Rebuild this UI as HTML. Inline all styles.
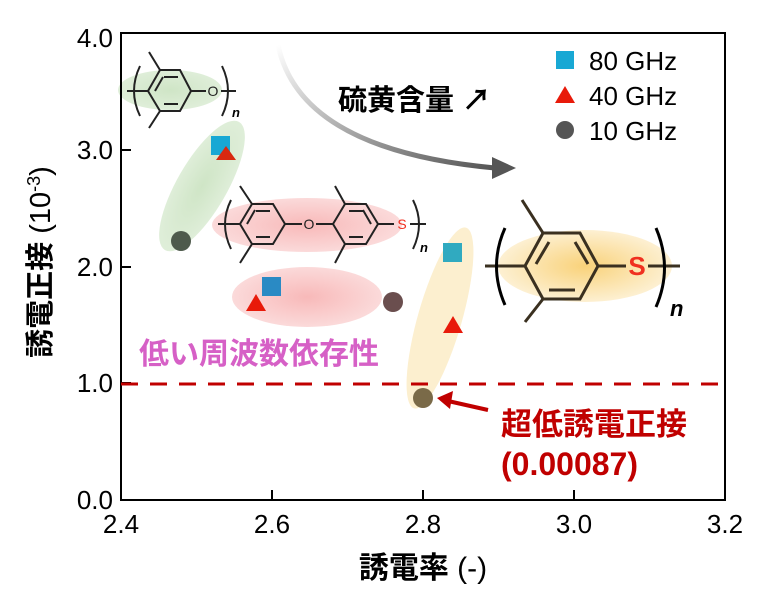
<!DOCTYPE html>
<html><head><meta charset="utf-8"><style>
html,body{margin:0;padding:0;background:#fff;}
svg{display:block;font-family:"Liberation Sans","Noto Sans CJK JP",sans-serif;}
</style></head><body>
<svg width="765" height="609" viewBox="0 0 765 609" xmlns="http://www.w3.org/2000/svg">
<defs>
<radialGradient id="gG"><stop offset="0" stop-color="#cfe5c6"/><stop offset="1" stop-color="#dfeed9"/></radialGradient>
<radialGradient id="gR"><stop offset="0" stop-color="#f8b9b9"/><stop offset="1" stop-color="#fbdada"/></radialGradient>
<radialGradient id="gY"><stop offset="0" stop-color="#f9d27a"/><stop offset="1" stop-color="#fdf0d2"/></radialGradient>
<linearGradient id="gA" x1="0" y1="0" x2="1" y2="1"><stop offset="0" stop-color="#ffffff"/><stop offset="1" stop-color="#555"/></linearGradient>
</defs>

<ellipse cx="170" cy="90" rx="52" ry="20" fill="url(#gG)"/>
<ellipse cx="202" cy="186" rx="74" ry="25" fill="url(#gG)" transform="rotate(-60 202 186)"/>
<ellipse cx="307" cy="225" rx="95" ry="27" fill="url(#gR)"/>
<ellipse cx="307" cy="297" rx="75" ry="30" fill="url(#gR)"/>
<ellipse cx="440" cy="318" rx="94" ry="22" fill="#fcefcf" transform="rotate(-74 440 318)"/>
<ellipse cx="585" cy="266" rx="87" ry="36" fill="url(#gY)"/>

<rect x="121" y="33" width="604" height="467" fill="none" stroke="#000" stroke-width="2"/>
<g stroke="#000" stroke-width="2">
<line x1="121" y1="150" x2="131" y2="150"/><line x1="121" y1="267" x2="131" y2="267"/><line x1="121" y1="383" x2="131" y2="383"/>
<line x1="272" y1="500" x2="272" y2="490"/><line x1="423" y1="500" x2="423" y2="490"/><line x1="574" y1="500" x2="574" y2="490"/>
</g>
<g font-size="26" text-anchor="end">
<text x="113" y="47">4.0</text><text x="113" y="159">3.0</text><text x="113" y="276">2.0</text><text x="113" y="392">1.0</text><text x="113" y="509">0.0</text>
</g>
<g font-size="26" text-anchor="middle">
<text x="121" y="533">2.4</text><text x="272" y="533">2.6</text><text x="423" y="533">2.8</text><text x="574" y="533">3.0</text><text x="725" y="533">3.2</text>
</g>
<text x="423" y="578" font-size="30" font-weight="bold" text-anchor="middle">誘電率 <tspan font-weight="normal">(-)</tspan></text>
<text transform="translate(50 262) rotate(-90)" font-size="29" font-weight="bold" text-anchor="middle">誘電正接 <tspan font-weight="normal">(10<tspan font-size="18" dy="-10">-3</tspan><tspan dy="10">)</tspan></tspan></text>

<line x1="121" y1="384" x2="725" y2="384" stroke="#c00000" stroke-width="3" stroke-dasharray="17 12"/>

<path d="M278 45 Q300 150 495 168" fill="none" stroke="url(#gA)" stroke-width="5"/>
<path d="M492 157 L516 168 L492 179 Z" fill="#555"/>
<text x="338" y="110" font-size="29" font-weight="bold">硫黄含量 ↗</text>

<g stroke="#222" stroke-width="2" fill="none">
<polygon points="148,91 160,70 180,70 191,91 180,111 160,111"/>
<line x1="164" y1="77" x2="178" y2="77"/><line x1="164" y1="104" x2="178" y2="104"/><line x1="155" y1="91" x2="163" y2="77"/>
<line x1="160" y1="70" x2="149" y2="52"/><line x1="160" y1="111" x2="149" y2="128"/>
<line x1="127" y1="91" x2="148" y2="91"/><line x1="191" y1="91" x2="206" y2="91"/><line x1="221" y1="91" x2="236" y2="91"/>
<path d="M140 66 Q128 91 140 116"/><path d="M222 66 Q234 91 222 116"/>
</g>
<text x="213" y="96" font-size="14" text-anchor="middle" fill="#222">O</text>
<text x="232" y="117" font-size="13" font-style="italic" font-weight="bold">n</text>

<g stroke="#222" stroke-width="2" fill="none">
<polygon points="240,224 252,204 273,204 285,224 273,244 252,244"/>
<line x1="256" y1="211" x2="270" y2="211"/><line x1="256" y1="237" x2="270" y2="237"/><line x1="247" y1="224" x2="255" y2="210"/>
<line x1="252" y1="204" x2="240" y2="186"/><line x1="252" y1="244" x2="240" y2="263"/>
<polygon points="333,224 345,204 366,204 378,224 366,244 345,244"/>
<line x1="349" y1="211" x2="363" y2="211"/><line x1="349" y1="237" x2="363" y2="237"/><line x1="371" y1="224" x2="363" y2="210"/>
<line x1="345" y1="204" x2="335" y2="186"/><line x1="345" y1="244" x2="335" y2="263"/>
<line x1="218" y1="224" x2="240" y2="224"/><line x1="285" y1="224" x2="302" y2="224"/><line x1="316" y1="224" x2="333" y2="224"/>
<line x1="378" y1="224" x2="394" y2="224"/><line x1="410" y1="224" x2="426" y2="224"/>
<path d="M231 200 Q219 224 231 249"/><path d="M413 200 Q425 224 413 249"/>
</g>
<text x="309" y="229" font-size="14" text-anchor="middle" fill="#222">O</text>
<text x="402" y="229" font-size="14" text-anchor="middle" fill="#f03020">S</text>
<text x="420" y="252" font-size="13" font-style="italic" font-weight="bold">n</text>

<g stroke="#3a3020" stroke-width="3" fill="none">
<polygon points="525,266 543,233 580,233 598,266 580,299 543,299"/>
<line x1="549" y1="242" x2="536" y2="264"/><line x1="575" y1="242" x2="588" y2="264"/><line x1="549" y1="290" x2="575" y2="290"/>
<line x1="543" y1="233" x2="522" y2="200"/><line x1="543" y1="299" x2="525" y2="322"/>
<line x1="485" y1="266" x2="525" y2="266"/><line x1="598" y1="266" x2="626" y2="266"/><line x1="648" y1="266" x2="680" y2="266"/>
</g>
<g stroke="#000" stroke-width="3" fill="none">
<path d="M505 228 Q488 266 505 305"/><path d="M656 228 Q673 268 656 307"/>
</g>
<text x="637" y="275" font-size="26" text-anchor="middle" fill="#f03020" font-weight="bold">S</text>
<text x="670" y="316" font-size="22" font-style="italic" font-weight="bold">n</text>

<rect x="211" y="136" width="19" height="19" fill="#18a8d4"/>
<rect x="262" y="277" width="19" height="19" fill="#2a8ac4"/>
<rect x="443" y="243" width="19" height="19" fill="#30aac0"/>
<polygon points="226,146 236,160 216,160" fill="#d82810"/>
<polygon points="256,294 266,311 246,311" fill="#e81a0a"/>
<polygon points="453,316 463,333 443,333" fill="#e81a0a"/>
<circle cx="181" cy="241" r="10" fill="#4e5a4c"/>
<circle cx="393" cy="302" r="10" fill="#6a4e4e"/>
<circle cx="423" cy="398" r="10" fill="#7a6a48"/>

<rect x="556" y="51" width="18" height="18" fill="#18a8d4"/>
<polygon points="565,86 575,103 555,103" fill="#e81a0a"/>
<circle cx="565" cy="130" r="9" fill="#555"/>
<g font-size="26"><text x="589" y="70">80 GHz</text><text x="589" y="105">40 GHz</text><text x="589" y="140">10 GHz</text></g>

<text x="139" y="364" font-size="30" font-weight="bold" fill="#d660c6">低い周波数依存性</text>
<line x1="488" y1="410" x2="448" y2="401" stroke="#c00000" stroke-width="4"/>
<path d="M437 398 L453 391 L450 409 Z" fill="#c00000"/>
<text x="501" y="435" font-size="31" font-weight="bold" fill="#c00000">超低誘電正接</text>
<text x="501" y="475" font-size="32" font-weight="bold" fill="#c00000">(0.00087)</text>
</svg>
</body></html>
